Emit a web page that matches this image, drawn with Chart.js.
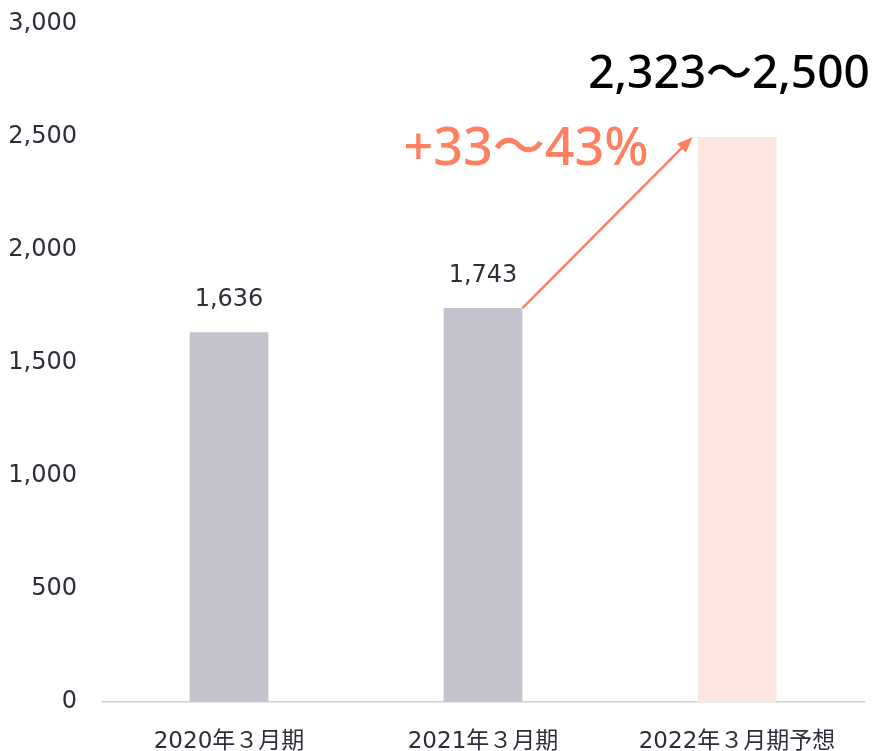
<!DOCTYPE html>
<html>
<head>
<meta charset="utf-8">
<script src="https://cdn.jsdelivr.net/npm/chart.js@4.4.0/dist/chart.umd.min.js"></script>
<style>
  html, body { margin: 0; padding: 0; background: #fff; }
  #wrap { width: 877px; height: 751px; }
</style>
</head>
<body>
<div id="wrap"><canvas id="myChart"></canvas></div>
<script>
'use strict';

let categories = ['2020年３月期', '2021年３月期', '2022年３月期予想'];
let sales = [1636, 1743, 2500];
let barLabels = ['1,636', '1,743', '2,323〜2,500'];
let growthLabel = '+33〜43%';
let barColors = ['#c3c3cd', '#c3c3cd', '#fde4de'];
let tickFont = '"DejaVu Sans", "Noto Sans CJK JP", sans-serif';
let bigFont = '"Noto Sans", "Noto Sans CJK JP", sans-serif';

// labels above bars and the growth arrow
let annotate = {
  id: 'annotate',
  afterDatasetsDraw(chart) {
    let ctx = chart.ctx;
    let bars = chart.getDatasetMeta(0).data;
    ctx.save();
    ctx.textAlign = 'center';
    ctx.textBaseline = 'middle';
    ctx.fillStyle = '#2e2e3a';
    ctx.font = '24px ' + tickFont;
    for (let i = 0; i < 2; i++) {
      ctx.fillText(barLabels[i], bars[i].x, bars[i].y - 32);
    }
    ctx.fillStyle = '#000';
    ctx.font = '500 46px ' + bigFont;
    ctx.fillText(barLabels[2], bars[2].x - 8, bars[2].y - 62);

    // arrow from 2021 bar top to 2022 bar top
    let x1 = bars[1].x + bars[1].width / 2;
    let y1 = bars[1].y;
    let x2 = bars[2].x - bars[2].width / 2 - 5;
    let y2 = bars[2].y;
    ctx.strokeStyle = '#ff8060';
    ctx.fillStyle = '#ff8060';
    ctx.lineWidth = 2.5;
    let ang = Math.atan2(y2 - y1, x2 - x1);
    ctx.beginPath();
    ctx.moveTo(x1, y1);
    ctx.lineTo(x2 - 10 * Math.cos(ang), y2 - 10 * Math.sin(ang));
    ctx.stroke();
    ctx.beginPath();
    ctx.moveTo(x2, y2);
    ctx.lineTo(x2 - 17 * Math.cos(ang - 0.38), y2 - 17 * Math.sin(ang - 0.38));
    ctx.lineTo(x2 - 17 * Math.cos(ang + 0.38), y2 - 17 * Math.sin(ang + 0.38));
    ctx.closePath();
    ctx.fill();

    ctx.font = '500 52px ' + bigFont;
    ctx.fillText(growthLabel, 526, y2 + 13);
    ctx.restore();
  }
};

let ctx = document.getElementById('myChart').getContext('2d');
let myChart = new Chart(ctx, {
  type: 'bar',
  data: {
    labels: categories,
    datasets: [{
      data: sales,
      backgroundColor: barColors,
      categoryPercentage: 1,
      barPercentage: 0.31
    }]
  },
  options: {
    responsive: true,
    maintainAspectRatio: false,
    animation: false,
    layout: { padding: { top: 24, right: 13, left: 0, bottom: 0 } },
    plugins: {
      legend: { display: false },
      tooltip: { enabled: false }
    },
    scales: {
      x: {
        afterFit(scale) { scale.height = 49; },
        grid: { display: false, drawTicks: false },
        border: { color: '#d2d2d8', width: 1.5 },
        ticks: {
          color: '#2e2e3a',
          font: { family: tickFont, size: 23 },
          padding: 26
        }
      },
      y: {
        min: 0,
        max: 3000,
        afterFit(scale) {
          scale.width = 102;
          scale.paddingTop = 0;
          scale.paddingBottom = 0;
        },
        grid: { display: false, drawTicks: false },
        border: { display: false },
        ticks: {
          stepSize: 500,
          color: '#2e2e3a',
          font: { family: tickFont, size: 24 },
          padding: 25,
          callback: (v) => v.toLocaleString('en-US')
        }
      }
    }
  },
  plugins: [annotate]
});
</script>
</body>
</html>
